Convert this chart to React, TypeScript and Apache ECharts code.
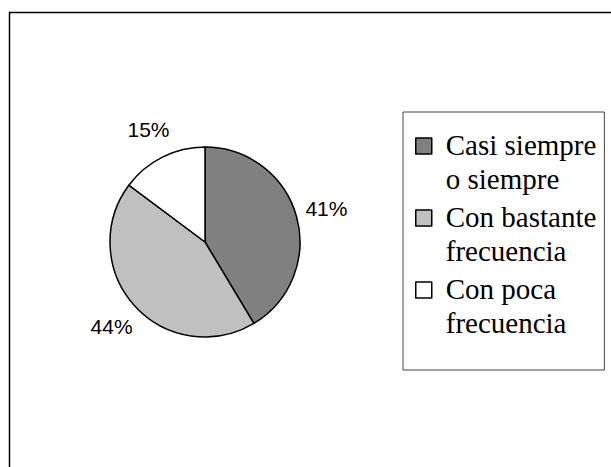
import React, { useEffect, useRef } from "react";
import * as echarts from "echarts";

const categories = ["Casi siempre o siempre", "Con bastante frecuencia", "Con poca frecuencia"];
const legendLines = [["Casi siempre", "o siempre"], ["Con bastante", "frecuencia"], ["Con poca", "frecuencia"]];
const values = [41.4, 43.8, 14.8];
const colors = ["#808080", "#c0c0c0", "#ffffff"];

export default function App() {
  const ref = useRef<HTMLDivElement>(null);
  useEffect(() => {
    if (!ref.current) return;
    const chart = echarts.init(ref.current, null, { renderer: "svg" });
    const data = categories.map((name, i) => ({ name, value: values[i] }));
    chart.setOption({
      animation: false,
      color: colors,
      graphic: [
        {
          type: "rect",
          shape: { x: 9.5, y: 12.5, width: 700, height: 600 },
          style: { fill: "none", stroke: "#000", lineWidth: 1.5 },
          silent: true,
          z: 0,
        },
      ],
      legend: {
        orient: "vertical",
        left: 403,
        top: 112,
        padding: [16, 8, 30, 12],
        itemGap: 4,
        itemWidth: 25,
        itemHeight: 48,
        icon: "path://M0 0H16V16H0Z M25 48",
        selectedMode: false,
        backgroundColor: "#fff",
        borderColor: "#444",
        borderWidth: 1,
        borderRadius: 0,
        itemStyle: { borderColor: "#000", borderWidth: 1.5 },
        data: categories,
        formatter: (name: string) =>
          legendLines[categories.indexOf(name)].map((l) => `{t|${l}}`).join("\n"),
        textStyle: {
          fontFamily: "Liberation Serif",
          fontSize: 29,
          lineHeight: 34,
          color: "#000",
          rich: {
            t: {
              fontFamily: "Liberation Serif",
              fontSize: 29,
              lineHeight: 34,
              color: "#000",
            },
          },
        },
      },
      series: [
        {
          type: "pie",
          center: [205, 242],
          radius: 95,
          startAngle: 90,
          clockwise: true,
          silent: true,
          label: { show: false },
          labelLine: { show: false },
          itemStyle: { borderColor: "#000", borderWidth: 1.5 },
          emphasis: { disabled: true },
          data,
          z: 2,
        },
        {
          type: "pie",
          center: [205, 242],
          radius: [96, 150],
          startAngle: 90,
          clockwise: true,
          silent: true,
          percentPrecision: 0,
          itemStyle: { color: "rgba(0,0,0,0)", borderWidth: 0 },
          emphasis: { disabled: true },
          labelLine: { show: false },
          label: {
            show: true,
            position: "inside",
            formatter: "{d}%",
            fontFamily: "Liberation Sans",
            fontSize: 21,
            color: "#000",
          },
          data,
          z: 1,
        },
      ],
    });
    return () => chart.dispose();
  }, []);
  return (
    <div
      ref={ref}
      style={{ position: "fixed", left: 0, top: 0, width: 611, height: 467, background: "#fff" }}
    />
  );
}
